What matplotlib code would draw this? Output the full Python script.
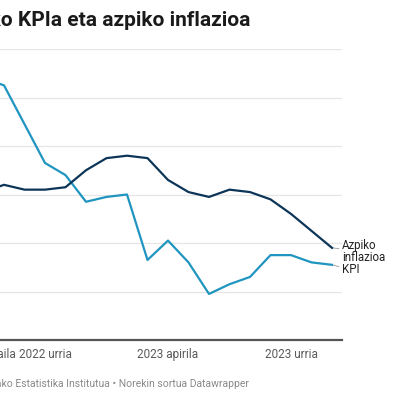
import matplotlib.pyplot as plt

plt.rcParams['font.family'] = ['Roboto', 'DejaVu Sans']

# Jul 2022 .. Dec 2023
months = list(range(18))
kpi = [10.8, 10.5, 8.9, 7.3, 6.8, 5.7, 5.9, 6.0, 3.3, 4.1, 3.2, 1.9,
       2.3, 2.6, 3.5, 3.5, 3.2, 3.1]
azpiko = [6.1, 6.4, 6.2, 6.2, 6.3, 7.0, 7.5, 7.6, 7.5, 6.6, 6.1, 5.9,
          6.2, 6.1, 5.8, 5.2, 4.5, 3.8]
tick_pos = [0, 3, 9, 15]
tick_labels = ['2022 uztaila', '2022 urria', '2023 apirila', '2023 urria']
y_grid = [2, 4, 6, 8, 10, 12]

W = 400.0
fig = plt.figure(figsize=(4, 4), dpi=100)
# axes deliberately start left of the canvas (the reference is cropped)
x0, x1 = -16.5, 342.0
ax = fig.add_axes([x0 / W, 60 / W, (x1 - x0) / W, (340 - 49) / W])
ax.set_xlim(0, (x1 - x0) / 20.5)
ax.set_ylim(0, 12)

for g in y_grid:
    ax.axhline(g, color='#e6e6e6', lw=0.9, zorder=0)
ax.axhline(0, color='#555555', lw=1.6, zorder=1, clip_on=False)

light = '#1f95bf'
dark = '#0c3557'
ax.plot(months, kpi, color=light, lw=1.6, zorder=3, clip_on=False)
ax.plot(months, azpiko, color=dark, lw=1.6, zorder=4, clip_on=False)

for s in ax.spines.values():
    s.set_visible(False)
ax.set_yticks([])
ax.set_xticks(tick_pos)
ax.set_xticklabels(tick_labels, fontsize=8.5, color='#5a5a5a')
ax.tick_params(axis='x', length=0, pad=6)

# end labels
ax.annotate('Azpiko\ninflazioa', xy=(months[-1], azpiko[-1]),
            xytext=(7, -2.6), textcoords='offset points', ha='left', va='center',
            fontsize=8.3, color='#222222', linespacing=0.97,
            arrowprops=dict(arrowstyle='-', color='#999999', lw=0.6,
                            shrinkA=0, shrinkB=1))
ax.annotate('KPI', xy=(months[-1], kpi[-1]),
            xytext=(7, -3.4), textcoords='offset points', ha='left', va='center',
            fontsize=8.3, color='#222222',
            arrowprops=dict(arrowstyle='-', color='#999999', lw=0.6,
                            shrinkA=0, shrinkB=1))

fig.text(250 / W, 1 - 21 / W, 'Espainiako KPIa eta azpiko inflazioa',
         ha='right', va='center', fontsize=15.0, fontweight='bold',
         color='#1a1a1a')
fig.text(249 / W, 1 - 384 / W,
         'Iturria: Espainiako Estatistika Institutua \u2022 Norekin sortua Datawrapper',
         ha='right', va='center', fontsize=7.5, color='#8a8a8a')

fig.savefig('out.png', dpi=100)
